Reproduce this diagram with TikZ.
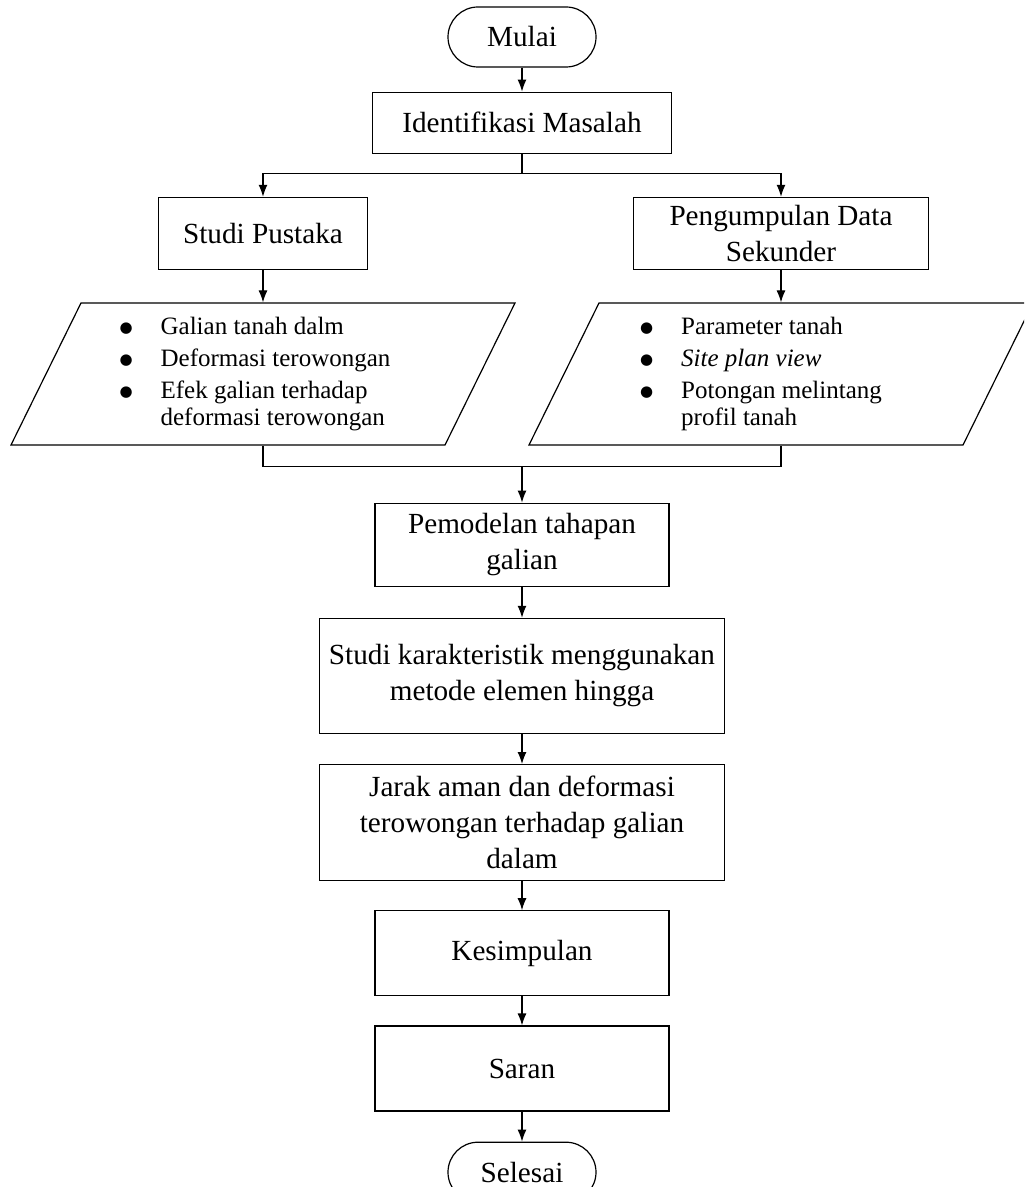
\documentclass[tikz,border=0pt]{standalone}
\usepackage{fontspec}
\setmainfont{Liberation Serif}
\newfontfamily\dotfont{DejaVu Sans}
\usetikzlibrary{arrows.meta, positioning, calc}
\tikzstyle{process} = [rectangle, draw=black, line width=0.6pt, text centered, align=center, inner sep=2pt, font=\fontsize{14.6pt}{18pt}\selectfont]
\tikzstyle{terminal} = [process, rounded corners=15pt, minimum width=74pt, minimum height=30pt]
\tikzstyle{para} = [rectangle, draw=black, line width=0.6pt, minimum width=217pt, minimum height=71pt, xslant=0.493]
\tikzstyle{listtext} = [inner sep=0pt, font=\fontsize{12.5pt}{16pt}\selectfont]
\tikzstyle{line} = [line width=0.6pt]
\tikzstyle{arrow} = [line width=0.6pt,->,>={Latex[length=6pt,width=4.5pt]}]
\newcommand{\bigdot}{\raisebox{1.2pt}{\dotfont\fontsize{7.5pt}{8pt}\selectfont ●}}

\begin{document}
\begin{tikzpicture}[node distance=12pt]

\fill [white] (-261pt,18.5pt) rectangle (251pt,-575pt);
\useasboundingbox (-261pt,18.5pt) rectangle (251pt,-575pt);
\clip (-261pt,18.5pt) rectangle (251pt,-575pt);

% Start
\node (mulai) [terminal] at (0,0) {Mulai};
\node (ident) [process, minimum width=149.5pt, minimum height=30.5pt, below=12pt of mulai] {Identifikasi Masalah};
\coordinate [below=10pt of ident] (split);

% Branches
\node (pustaka) [process, minimum width=104.5pt, minimum height=36pt, below=21.5pt of ident, xshift=-129.5pt] {Studi Pustaka};
\node (sekunder) [process, minimum width=147.5pt, minimum height=36pt, below=21.5pt of ident, xshift=129.5pt] {Pengumpulan Data\\Sekunder};

% Inputs
\node (pustakabox) [para] at ($(pustaka.south)+(0,-52pt)$) {};
\node (sekunderbox) [para] at ($(sekunder.south)+(0,-52pt)$) {};
\node (pustakalist) [listtext] at ([xshift=-4pt]pustakabox.center) {%
\begin{tabular}{@{}l@{\hspace{14pt}}l@{}}
\bigdot & Galian tanah dalm\\
\bigdot & Deformasi terowongan\\
\bigdot & Efek galian terhadap\\[-2.5pt]
 & deformasi terowongan
\end{tabular}};
\node (sekunderlist) [listtext] at ([xshift=-10pt]sekunderbox.center) {%
\begin{tabular}{@{}l@{\hspace{14pt}}l@{}}
\bigdot & Parameter tanah\\
\bigdot & \textit{Site plan view}\\
\bigdot & Potongan melintang\\[-2.5pt]
 & profil tanah
\end{tabular}};

\coordinate (joinl) at ($(pustaka |- pustakabox.south)+(0,-10.5pt)$);
\coordinate (joinr) at (sekunder |- joinl);
\coordinate (joinc) at (ident |- joinl);

% Main column
\node (model) [process, minimum width=147pt, minimum height=41.5pt, below=18pt of joinc] {Pemodelan tahapan\\galian};
\node (karakter) [process, minimum width=202.5pt, minimum height=57.5pt, below=15.5pt of model] {Studi karakteristik menggunakan\\metode elemen hingga};
\node (jarak) [process, minimum width=202.5pt, minimum height=58pt, below=15pt of karakter] {Jarak aman dan deformasi\\terowongan terhadap galian\\dalam};
\node (simpul) [process, minimum width=147pt, minimum height=42.5pt, below=14.5pt of jarak] {Kesimpulan};
\node (saran) [process, minimum width=147pt, minimum height=42.5pt, below=14.5pt of simpul] {Saran};
\node (selesai) [terminal, below=15pt of saran] {Selesai};

% Arrows
\draw [arrow] (mulai) -- (ident);
\draw [line] (ident) -- (split);
\draw [arrow] (split) -| (pustaka);
\draw [arrow] (split) -| (sekunder);
\draw [arrow] (pustaka) -- (pustaka |- pustakabox.north);
\draw [arrow] (sekunder) -- (sekunder |- sekunderbox.north);
\draw [line] (pustaka |- pustakabox.south) -- (joinl) -- (joinr) -- (sekunder |- sekunderbox.south);
\draw [arrow] (joinc) -- (model);
\draw [arrow] (model) -- (karakter);
\draw [arrow] (karakter) -- (jarak);
\draw [arrow] (jarak) -- (simpul);
\draw [arrow] (simpul) -- (saran);
\draw [arrow] (saran) -- (selesai);

\end{tikzpicture}
\end{document}
